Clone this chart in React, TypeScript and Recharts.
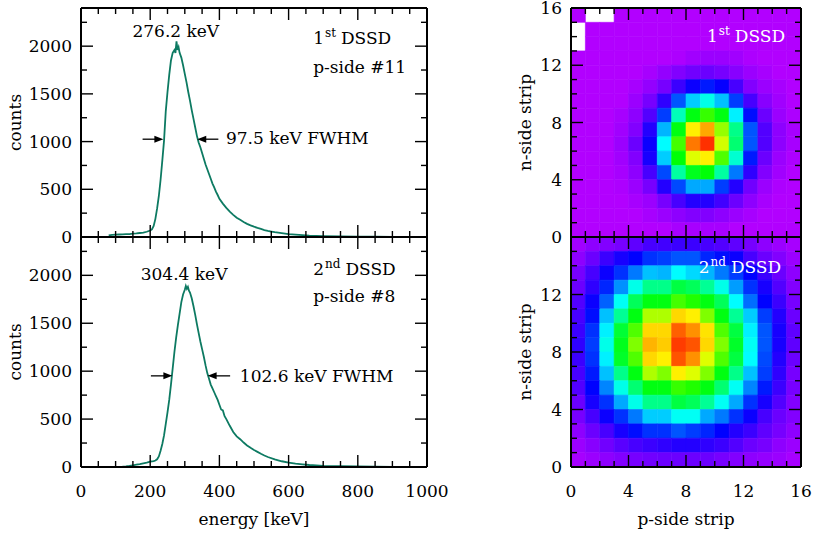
import React from "react";
import {
  ComposedChart,
  Line,
  Scatter,
  XAxis,
  YAxis,
  ReferenceArea,
  ReferenceDot,
  ReferenceLine,
} from "recharts";

const FONT = "'DejaVu Serif', serif";
const FS = 17;
const LINE_COLOUR = "#0d7a62";

// axis ticks
const energyTicks = [0, 50, 100, 150, 200, 250, 300, 350, 400, 450, 500, 550, 600, 650, 700, 750, 800, 850, 900, 950, 1000];
const energyLabels = [0, 200, 400, 600, 800, 1000];
const countTicks = [0, 250, 500, 750, 1000, 1250, 1500, 1750, 2000, 2250];
const countLabels = [0, 500, 1000, 1500, 2000];
const stripTicks = [0, 1, 2, 3, 4, 5, 6, 7, 8, 9, 10, 11, 12, 13, 14, 15, 16];
const stripLabelsTop = [0, 4, 8, 12, 16];
const stripLabelsBottom = [0, 4, 8, 12];

// energy spectra, [keV, counts]
const dssd1Spectrum: [number, number][] = [
  [80, 16], [90, 22], [100, 24], [110, 26], [120, 28], [130, 30], [140, 31], [150, 35], [160, 38], [170, 42],
  [180, 46], [190, 55], [200, 68], [205, 80], [210, 115], [215, 190], [220, 300], [225, 430], [230, 600], [235, 800],
  [240, 1010], [245, 1320], [250, 1520], [255, 1700], [260, 1850], [265, 1930], [270, 1960], [273, 1930], [276, 2050],
  [279, 1960], [282, 1990], [285, 1930], [290, 1880], [295, 1800], [300, 1710], [305, 1620], [310, 1520], [315, 1430],
  [320, 1330], [325, 1240], [330, 1150], [335, 1060], [340, 990], [345, 940], [350, 880], [355, 820], [360, 760],
  [365, 710], [370, 660], [375, 610], [380, 560], [385, 520], [390, 475], [395, 440], [400, 400], [410, 350],
  [420, 305], [430, 265], [440, 232], [450, 202], [460, 180], [470, 158], [480, 138], [490, 122], [500, 108],
  [510, 95], [520, 84], [530, 73], [540, 64], [550, 57], [560, 50], [580, 40], [600, 31], [620, 25], [640, 19],
  [660, 14], [680, 11], [700, 9], [750, 6], [800, 4], [850, 3], [900, 2], [950, 1], [1000, 1],
];

const dssd2Spectrum: [number, number][] = [
  [120, 3], [130, 7], [140, 12], [150, 18], [160, 24], [170, 30], [180, 38], [190, 46], [200, 55], [210, 62],
  [215, 68], [220, 80], [225, 110], [230, 170], [235, 240], [240, 330], [245, 450], [250, 570], [255, 700],
  [260, 860], [265, 1030], [270, 1200], [275, 1350], [280, 1480], [285, 1600], [290, 1720], [295, 1800],
  [300, 1850], [303, 1890], [306, 1860], [309, 1880], [312, 1840], [315, 1820], [320, 1760], [325, 1680],
  [330, 1590], [335, 1490], [340, 1400], [345, 1310], [350, 1230], [355, 1150], [360, 1060], [365, 980],
  [370, 920], [375, 860], [380, 820], [385, 780], [390, 740], [395, 700], [400, 650], [405, 600], [410, 590],
  [415, 530], [420, 500], [430, 430], [440, 365], [450, 320], [460, 290], [470, 255], [480, 225], [490, 200],
  [500, 178], [510, 158], [520, 138], [530, 120], [540, 104], [560, 80], [580, 60], [600, 46], [620, 36],
  [640, 28], [660, 21], [680, 16], [700, 12], [750, 8], [800, 5], [850, 3], [900, 2], [950, 1], [1000, 1],
];

// hit maps, relative intensity 0-100; rows n-strip 15 (top) down to 0, columns p-strip 0..15; null = no hits
const dssd1Map: (number | null)[][] = [
  [0, null, null, 0, 0, 0, 0, 0, 0, 0, 0, 0, 0, 0, 0, 0],
  [null, 0, 0, 0, 0, 0, 0, 0, 0, 0, 0, 0, 0, 0, 0, 0],
  [null, 0, 0, 0, 0, 0, 0, 0, 0, 0, 0, 0, 0, 0, 0, 0],
  [0, 0, 0, 0, 0, 0, 0, 0.5, 1.5, 2, 2, 1.5, 0.5, 0, 0, 0],
  [0, 0, 0, 0, 0, 1, 2.5, 4, 5.5, 6, 5, 3.5, 2, 1, 0, 0],
  [0, 0, 0, 0, 1, 2.5, 5, 10, 14, 17, 14.5, 9, 4, 2, 1, 0],
  [0, 0, 0, 0, 2, 5, 11, 22, 32, 38, 31, 20, 9, 3.5, 1.5, 0],
  [0, 0, 0, 1, 3, 8, 20, 42, 56, 62, 56, 35, 16, 6, 2, 0.5],
  [0, 0, 0, 1.5, 4, 12, 30, 56, 80, 86, 70, 46, 22, 8, 3, 1],
  [0, 0, 0, 2, 6, 14, 36, 63, 90, 96, 75, 48, 22, 8, 3, 1],
  [0, 0, 0, 1.5, 4, 13, 32, 57, 76, 80, 64, 40, 17, 6, 2, 0.5],
  [0, 0, 0, 1, 3, 9, 21, 44, 55, 57, 44, 25, 11, 4, 1.5, 0],
  [0, 0, 0, 0.5, 2, 5, 12, 21, 29, 29, 20, 12, 5.5, 2, 0.5, 0],
  [0, 0, 0, 0, 1, 2, 5, 9, 12, 12, 9.5, 6, 3, 1, 0, 0],
  [0, 0, 0, 0, 0, 1, 2, 3, 4, 4, 3, 2, 1, 0, 0, 0],
  [0, 0, 0, 0, 0, 0, 0, 1, 1, 1, 1, 0, 0, 0, 0, 0],
];

const dssd2Map: (number | null)[][] = [
  [1.5, 3, 4, 5, 7, 9, 9.5, 10, 10, 9, 8, 7, 5, 3, 2, 1],
  [3, 6, 10, 13, 15, 19, 20, 22, 22, 18, 16, 14, 9, 6, 4, 2],
  [5, 9, 14, 19, 25, 31, 30, 36, 33, 30, 25, 20, 15, 10, 6, 3],
  [6, 11, 18, 27, 38, 46, 46, 52, 50, 45, 38, 28, 19, 13, 8, 4],
  [8, 14, 23, 37, 50, 56, 56, 63, 60, 56, 50, 36, 24, 15, 10, 5],
  [9, 16, 31, 45, 56, 72, 72, 82, 80, 68, 56, 45, 32, 20, 12, 6],
  [10, 19, 35, 53, 64, 82, 82, 92, 88, 81, 64, 52, 35, 22, 13, 7],
  [11, 20, 38, 55, 68, 85, 83, 95, 93, 82, 68, 54, 37, 22, 13, 7],
  [10, 19, 35, 54, 64, 82, 80, 93, 88, 76, 64, 52, 36, 21, 12, 6],
  [9, 17, 31, 46, 56, 72, 68, 80, 76, 68, 56, 46, 31, 20, 11, 5],
  [8, 15, 26, 38, 48, 56, 56, 62, 60, 56, 48, 37, 26, 17, 10, 5],
  [6, 13, 19, 29, 38, 46, 46, 52, 50, 45, 37, 29, 19, 13, 8, 4],
  [5, 9, 14, 19, 25, 32, 32, 37, 37, 29, 25, 19, 14, 9, 6, 4],
  [3, 6, 9, 13, 16, 19, 19, 22, 20, 18, 15, 12, 10, 7, 5, 3],
  [2, 3.5, 5.5, 7.5, 9, 10, 11, 12, 12, 11, 10, 8, 6, 5, 3, 2],
  [1, 2, 3, 4, 5, 5.5, 6, 6, 6, 6, 5, 4, 3, 2.5, 2, 1],
];

const colourFor = (v: number) => `hsl(${(282 * (1 - v / 100)).toFixed(1)}, 100%, 50%)`;

// axis labels only; the tick marks are drawn by a scatter series
const tickLabel = (side: "left" | "bottom", labels: number[]) => (p: any) => {
  const { x, y, payload } = p;
  const v = payload.value;
  if (!labels.includes(v)) return <g />;
  return side === "left" ? (
    <text x={x - 9} y={y} dy="0.36em" textAnchor="end" fontFamily={FONT} fontSize={FS} fill="#000">
      {v}
    </text>
  ) : (
    <text x={x} y={y + 30} textAnchor="middle" fontFamily={FONT} fontSize={FS} fill="#000">
      {v}
    </text>
  );
};

type TickPoint = { x: number; y: number; side: "l" | "r" | "t" | "b"; len: number };

// tick positions on all four sides of a frame
function tickPoints(xTicks: number[], yTicks: number[], xMax: number, yMax: number, xMajor: number, yMajor: number) {
  const pts: TickPoint[] = [];
  yTicks.forEach((v) => {
    const len = v % yMajor === 0 ? 12 : 6;
    pts.push({ x: 0, y: v, side: "l", len }, { x: xMax, y: v, side: "r", len });
  });
  xTicks.forEach((v) => {
    const len = v % xMajor === 0 ? 12 : 6;
    pts.push({ x: v, y: 0, side: "b", len }, { x: v, y: yMax, side: "t", len });
  });
  return pts;
}

const TickMark = (p: any) => {
  const { cx, cy } = p;
  const t: TickPoint = p.payload;
  if (cx == null || cy == null) return <g />;
  const dx = t.side === "l" ? t.len : t.side === "r" ? -t.len : 0;
  const dy = t.side === "t" ? t.len : t.side === "b" ? -t.len : 0;
  return <line x1={cx} y1={cy} x2={cx + dx} y2={cy + dy} stroke="#000" strokeWidth={1.4} />;
};

const yTitle = (text: string, offset: number) => (p: any) => {
  const vb = p.viewBox;
  const x = vb.x + offset;
  const y = vb.y + vb.height / 2;
  return (
    <text x={x} y={y} transform={`rotate(-90, ${x}, ${y})`} textAnchor="middle" fontFamily={FONT} fontSize={FS} fill="#000">
      {text}
    </text>
  );
};

const xTitle = (text: string) => (p: any) => {
  const vb = p.viewBox;
  return (
    <text x={vb.x + vb.width / 2} y={vb.y + 58} textAnchor="middle" fontFamily={FONT} fontSize={FS} fill="#000">
      {text}
    </text>
  );
};

const note = (text: string, anchor: "start" | "middle" = "start") => (p: any) => {
  const vb = p.viewBox ?? p;
  return (
    <text x={vb.x} y={vb.y} textAnchor={anchor} fontFamily={FONT} fontSize={FS} fill="#000">
      {text}
    </text>
  );
};

const supNote = (num: string, sup: string, rest: string, fill = "#000") => (p: any) => {
  const vb = p.viewBox ?? p;
  return (
    <text x={vb.x} y={vb.y} fontFamily={FONT} fontSize={FS} fill={fill}>
      {num}
      <tspan dx={1} dy={-7} fontSize={12}>{sup}</tspan>
      <tspan dx={5} dy={7}>{rest}</tspan>
    </text>
  );
};

const Arrow = (p: any) => {
  const { x1, y1, x2, y2 } = p;
  const d = Math.sign(x2 - x1);
  return (
    <g>
      <line x1={x1} y1={y1} x2={x2 - d * 4} y2={y2} stroke="#000" strokeWidth={1.3} />
      <polygon points={`${x2},${y2} ${x2 - d * 9},${y2 - 3.5} ${x2 - d * 9},${y2 + 3.5}`} fill="#000" />
    </g>
  );
};

const frameLine = { stroke: "#000", strokeWidth: 2 };

function frame(xMax: number, yMax: number) {
  return [
    <ReferenceLine key="f1" x={0} {...frameLine} />,
    <ReferenceLine key="f2" x={xMax} {...frameLine} />,
    <ReferenceLine key="f3" y={0} {...frameLine} />,
    <ReferenceLine key="f4" y={yMax} {...frameLine} />,
  ];
}

const spectrumTicks = tickPoints(energyTicks, countTicks, 1000, 2400, 200, 500);
const mapTicks = tickPoints(stripTicks, stripTicks, 16, 16, 4, 4);

type SpectrumProps = {
  spectrum: [number, number][];
  bottom: boolean;
  peak: string;
  peakAt: [number, number];
  ordinal: string;
  strip: string;
  titleAt: [number, number];
  stripAt: [number, number];
  fwhm: string;
  fwhmAt: [number, number];
  leftArrow: [number, number, number];
  rightArrow: [number, number, number];
};

function SpectrumPanel(s: SpectrumProps) {
  const data = s.spectrum.map(([x, y]) => ({ x, y }));
  return (
    <ComposedChart
      width={460}
      height={s.bottom ? 305 : 252}
      data={data}
      margin={{ top: 8, right: 33, bottom: s.bottom ? 0 : 15, left: 0 }}
    >
      <XAxis
        dataKey="x"
        type="number"
        domain={[0, 1000]}
        allowDataOverflow
        ticks={energyTicks}
        interval={0}
        height={s.bottom ? 67 : 0}
        tickLine={false}
        tickSize={0}
        tickMargin={0}
        axisLine={false}
        tick={tickLabel("bottom", s.bottom ? energyLabels : [])}
        label={s.bottom ? xTitle("energy [keV]") : undefined}
      />
      <YAxis
        dataKey="y"
        type="number"
        domain={[0, 2400]}
        allowDataOverflow
        ticks={countTicks}
        interval={0}
        width={81}
        tickLine={false}
        tickSize={0}
        tickMargin={0}
        axisLine={false}
        tick={tickLabel("left", countLabels)}
        label={yTitle("counts", 21)}
      />
      <Line
        dataKey="y"
        type="linear"
        stroke={LINE_COLOUR}
        strokeWidth={1.8}
        dot={false}
        activeDot={false}
        isAnimationActive={false}
      />
      <Scatter data={spectrumTicks} dataKey="y" shape={TickMark} isAnimationActive={false} />
      {frame(1000, 2400)}
      <ReferenceDot x={s.peakAt[0]} y={s.peakAt[1]} r={0} fill="none" stroke="none" label={note(s.peak, "middle")} />
      <ReferenceDot
        x={s.titleAt[0]}
        y={s.titleAt[1]}
        r={0}
        fill="none"
        stroke="none"
        label={supNote(s.ordinal, s.ordinal === "1" ? "st" : "nd", "DSSD")}
      />
      <ReferenceDot x={s.stripAt[0]} y={s.stripAt[1]} r={0} fill="none" stroke="none" label={note(s.strip)} />
      <ReferenceDot x={s.fwhmAt[0]} y={s.fwhmAt[1]} r={0} fill="none" stroke="none" label={note(s.fwhm)} />
      <ReferenceLine
        segment={[
          { x: s.leftArrow[0], y: s.leftArrow[2] },
          { x: s.leftArrow[1], y: s.leftArrow[2] },
        ]}
        shape={Arrow}
      />
      <ReferenceLine
        segment={[
          { x: s.rightArrow[0], y: s.rightArrow[2] },
          { x: s.rightArrow[1], y: s.rightArrow[2] },
        ]}
        shape={Arrow}
      />
    </ComposedChart>
  );
}

type MapProps = {
  map: (number | null)[][];
  bottom: boolean;
  ordinal: string;
  titleAt: [number, number];
};

function HitMap(m: MapProps) {
  const cells: { col: number; row: number; v: number }[] = [];
  m.map.forEach((r, i) =>
    r.forEach((v, col) => {
      if (v !== null) cells.push({ col, row: m.map.length - 1 - i, v });
    })
  );
  return (
    <ComposedChart
      width={334}
      height={m.bottom ? 305 : 252}
      margin={{ top: 8, right: 13, bottom: m.bottom ? 0 : 15, left: 0 }}
    >
      <XAxis
        type="number"
        dataKey="x"
        domain={[0, 16]}
        allowDataOverflow
        ticks={stripTicks}
        interval={0}
        height={m.bottom ? 67 : 0}
        tickLine={false}
        tickSize={0}
        tickMargin={0}
        axisLine={false}
        tick={tickLabel("bottom", m.bottom ? stripLabelsTop : [])}
        label={m.bottom ? xTitle("p-side strip") : undefined}
      />
      <YAxis
        type="number"
        dataKey="y"
        domain={[0, 16]}
        allowDataOverflow
        ticks={stripTicks}
        interval={0}
        width={91}
        tickLine={false}
        tickSize={0}
        tickMargin={0}
        axisLine={false}
        tick={tickLabel("left", m.bottom ? stripLabelsBottom : stripLabelsTop)}
        label={yTitle("n-side strip", 51)}
      />
      {cells.map((c) => (
        <ReferenceArea
          key={`${c.col}-${c.row}`}
          x1={c.col}
          x2={c.col + 1}
          y1={c.row}
          y2={c.row + 1}
          fill={colourFor(c.v)}
          fillOpacity={1}
          stroke={colourFor(c.v)}
          strokeWidth={0.6}
        />
      ))}
      <Scatter data={mapTicks} dataKey="y" shape={TickMark} isAnimationActive={false} />
      {frame(16, 16)}
      <ReferenceDot
        x={m.titleAt[0]}
        y={m.titleAt[1]}
        r={0}
        fill="none"
        stroke="none"
        label={supNote(m.ordinal, m.ordinal === "1" ? "st" : "nd", "DSSD", "#fff")}
      />
    </ComposedChart>
  );
}

export default function App() {
  const place = (left: number, top: number): React.CSSProperties => ({ position: "absolute", left, top });
  return (
    <div style={{ position: "absolute", left: 0, top: 0, width: 814, height: 534, background: "#fff", overflow: "hidden" }}>
      <div style={place(0, 0)}>
        <SpectrumPanel
          spectrum={dssd1Spectrum}
          bottom={false}
          peak="276.2 keV"
          peakAt={[274, 2094]}
          ordinal="1"
          strip="p-side #11"
          titleAt={[671, 2025]}
          stripAt={[671, 1722]}
          fwhm="97.5 keV FWHM"
          fwhmAt={[419, 972]}
          leftArrow={[178, 238, 1025]}
          rightArrow={[397, 336, 1025]}
        />
      </div>
      <div style={place(0, 229)}>
        <SpectrumPanel
          spectrum={dssd2Spectrum}
          bottom
          peak="304.4 keV"
          peakAt={[298, 1955]}
          ordinal="2"
          strip="p-side #8"
          titleAt={[671, 2000]}
          stripAt={[671, 1722]}
          fwhm="102.6 keV FWHM"
          fwhmAt={[459, 889]}
          leftArrow={[202, 264, 951]}
          rightArrow={[431, 366, 951]}
        />
      </div>
      <div style={place(480, 0)}>
        <HitMap map={dssd1Map} bottom={false} ordinal="1" titleAt={[9.46, 13.62]} />
      </div>
      <div style={place(480, 229)}>
        <HitMap map={dssd2Map} bottom ordinal="2" titleAt={[8.88, 13.47]} />
      </div>
    </div>
  );
}
